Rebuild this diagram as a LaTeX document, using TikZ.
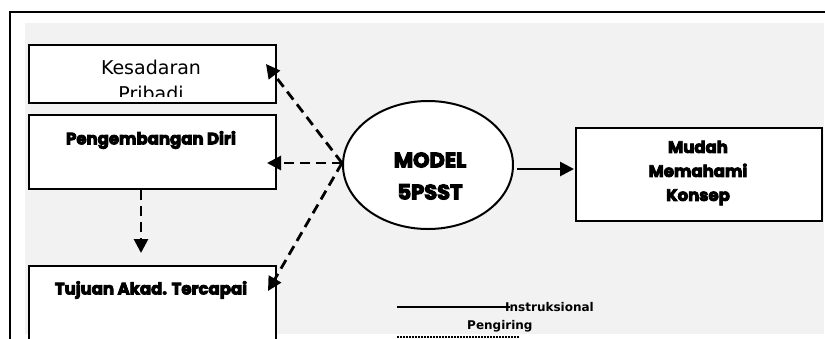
\documentclass[tikz,border=0pt]{standalone}
\usepackage{fontspec}
\setmainfont{DejaVu Sans}
\newfontfamily\heavyfont[BoldFeatures={FakeBold=5}]{Poppins}
\usetikzlibrary{arrows.meta,shapes.geometric}
\definecolor{panelgrey}{HTML}{F2F2F2}
\tikzset{
  box/.style={draw=black, line width=2pt, fill=white, anchor=north west, inner sep=0pt},
  heavy/.style={font=\heavyfont\bfseries\fontsize{16.5}{20}\selectfont},
  tip/.style={-{Triangle[length=14pt,width=14pt]}},
  dasharrow/.style={line width=2.8pt, dash pattern=on 10pt off 6pt, tip},
  solidarrow/.style={line width=2.8pt, tip},
  legendtext/.style={font=\bfseries\fontsize{12}{14}\selectfont, anchor=west, inner sep=0pt},
}
\begin{document}
\begin{tikzpicture}[x=1pt,y=-1pt]
\useasboundingbox (0,0) rectangle (825,338);
% frame and grey panel
\fill[panelgrey] (25,23) rectangle (824,334);
\draw[line width=1.8pt] (10,339) -- (10,12) -- (826,12);

% left column
\node[box, minimum width=247pt, minimum height=58pt] (kes) at (28,44) {};
\begin{scope}
  \clip (29,45) rectangle (274,96);
  \node[font=\fontsize{19}{26}\selectfont, align=center, anchor=north, inner sep=0pt] (kestext) at (151,60) {Kesadaran\\Pribadi};
\end{scope}
\node[box, minimum width=247pt, minimum height=74pt] (dev) at (28,114) {};
\node[heavy] (devtext) at (151,140) {Pengembangan Diri};
\node[box, minimum width=247pt, minimum height=80pt] (goal) at (28,265) {};
\node[heavy] (goaltext) at (151,290) {Tujuan Akad. Tercapai};

% central model
\node[draw=black, line width=2pt, fill=white, ellipse, minimum width=170pt, minimum height=128pt, inner sep=0pt] (model) at (428,165) {};
\node[align=center, font=\heavyfont\bfseries\fontsize{21}{32}\selectfont] (modeltext) at (430,176) {MODEL\\5PSST};

% outcome box
\node[box, minimum width=246pt, minimum height=93pt] (easy) at (575,127) {};
\node[align=center, font=\heavyfont\bfseries\fontsize{16.5}{24}\selectfont] (easytext) at (698,173) {Mudah\\Memahami\\Konsep};

% connectors
\coordinate (hub) at ([yshift=2pt]model.west);
\coordinate (kestip) at (266,64);
\coordinate (devtip) at (267,163);
\coordinate (goaltip) at (268,291);
\draw[dasharrow] (hub) -- (kestip);
\draw[dasharrow] (hub) -- (devtip);
\draw[dasharrow] (hub) -- (goaltip);
\draw[dasharrow] (dev.south -| 141,0) -- (141,253);
\draw[solidarrow] (model.east) ++(3,4) -- (574,169);

% legend
\node[legendtext] (instr) at (505,307) {Instruksional};
\node[legendtext] (penging) at (467,326) {Pengiring};
\coordinate (solidstart) at (397,307);
\draw[line width=2pt] (solidstart) -- ([xshift=5pt]instr.west);
\coordinate (dotstart) at (397,337);
\coordinate (dotend) at (520,337);
\draw[line width=1.6pt, dash pattern=on 1.5pt off 1.5pt] (dotstart) -- (dotend);
\end{tikzpicture}
\end{document}
